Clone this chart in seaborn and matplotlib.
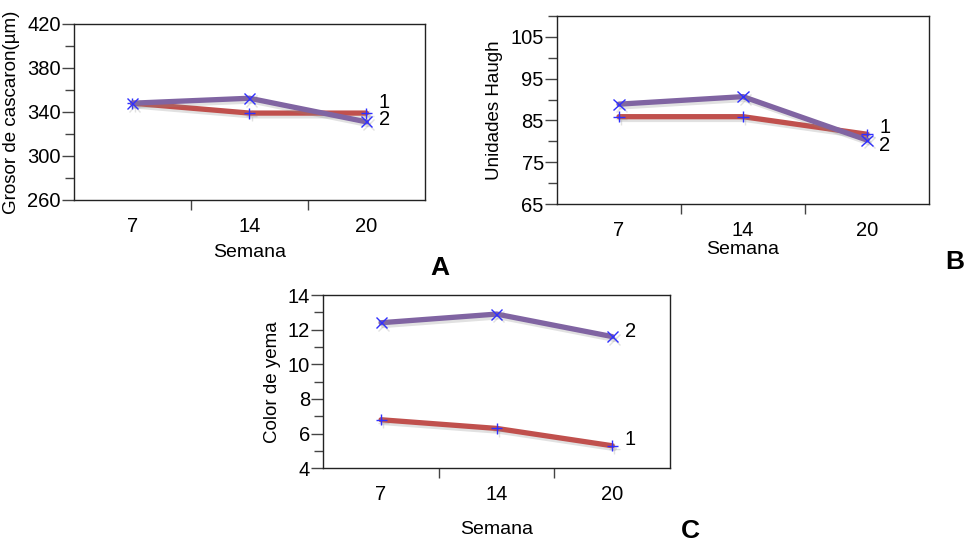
import matplotlib
matplotlib.use('Agg')
import matplotlib.pyplot as plt
import matplotlib.patheffects as pe
import pandas as pd
import seaborn as sns

# data
semana = ['7', '14', '20']
series = ['1', '2']
grosor_1 = [348, 339, 339]
grosor_2 = [348, 352.5, 331]
haugh_1 = [85.9, 85.9, 81.7]
haugh_2 = [88.9, 90.7, 80.3]
yema_1 = [6.8, 6.3, 5.3]
yema_2 = [12.4, 12.9, 11.6]

sns.set_style('white')
plt.rcParams['font.family'] = ['Liberation Sans', 'DejaVu Sans']
plt.rcParams['text.color'] = 'black'
plt.rcParams['axes.labelcolor'] = 'black'
plt.rcParams['xtick.color'] = 'black'
plt.rcParams['ytick.color'] = 'black'

colors = {'1': '#C0504D', '2': '#8064A2'}
markers = {'1': '+', '2': 'x'}


def long_df(v1, v2):
    rows = []
    for s, vals in zip(series, [v1, v2]):
        for w, v in zip(semana, vals):
            rows.append({'Semana': w, 'valor': v, 'serie': s})
    return pd.DataFrame(rows)


fig = plt.figure(figsize=(9.67, 5.44), dpi=100)

panels = [
    # axes rect, data, ylabel, ylim, major, minor, xlabelpad, label offsets (px)
    ([0.0765, 0.6324, 0.3630, 0.3235], (grosor_1, grosor_2), 'Grosor de cascaron(µm)',
     (260, 420), 40, 20, 6, {'1': 11, '2': 2}),
    ([0.5760, 0.6250, 0.3847, 0.3456], (haugh_1, haugh_2), 'Unidades Haugh',
     (65, 110), 10, 5, 1, {'1': 7, '2': -5}),
    ([0.3343, 0.1392, 0.3586, 0.3185], (yema_1, yema_2), 'Color de yema',
     (4, 14), 2, 1, 12, {'1': 6, '2': 5}),
]

for rect, (v1, v2), ylab, ylim, major, minor, xpad, offs in panels:
    ax = fig.add_axes(rect)
    df = long_df(v1, v2)
    sns.lineplot(data=df, x='Semana', y='valor', hue='serie', style='serie',
                 hue_order=series, palette=colors, markers=markers, dashes=False,
                 linewidth=3.8, markersize=8, legend=False, ax=ax, sort=False)
    for ln in ax.lines:
        ln.set_markeredgecolor('#2f2fff')
        ln.set_markerfacecolor('#2f2fff')
        ln.set_markeredgewidth(1.0)
        ln.set_path_effects([pe.SimpleLineShadow(offset=(1.5, -2), shadow_color='#888888', alpha=0.25),
                             pe.Normal()])

    ax.set_xlim(-0.5, 2.5)
    ax.set_ylim(*ylim)
    ax.set_xticks(range(len(semana)))
    ax.set_xticklabels(semana)
    ax.set_xticks([0.5, 1.5], minor=True)
    ax.set_yticks(range(ylim[0], int(ylim[1]) + 1, major))
    ax.set_yticks(range(ylim[0], int(ylim[1]) + 1, minor), minor=True)
    ax.tick_params(axis='x', which='major', length=0, pad=12, labelsize=14.5)
    ax.tick_params(axis='x', which='minor', length=7, width=1, color='#444444',
                   direction='out', bottom=True)
    ax.tick_params(axis='y', which='major', length=8.5, width=1, color='#444444',
                   direction='out', left=True, pad=1, labelsize=14.5)
    ax.tick_params(axis='y', which='minor', length=6.5, width=1, color='#444444',
                   direction='out', left=True)
    ax.set_xlabel('Semana', fontsize=14, labelpad=xpad)
    ax.set_ylabel(ylab, fontsize=13.5, labelpad=5)
    for sp in ax.spines.values():
        sp.set_visible(True)
        sp.set_color('#222222')
        sp.set_linewidth(1)

    for s, vals in zip(series, [v1, v2]):
        ax.annotate(s, xy=(2, vals[-1]), xytext=(9, offs[s] * 0.72),
                    textcoords='offset points', ha='left', va='center', fontsize=14.5)

fig.text(440 / 967, 1 - 268 / 544, 'A', fontsize=19, fontweight='bold', ha='center', va='center')
fig.text(955 / 967, 1 - 262 / 544, 'B', fontsize=19, fontweight='bold', ha='center', va='center')
fig.text(690 / 967, 1 - 531 / 544, 'C', fontsize=19, fontweight='bold', ha='center', va='center')

plt.savefig('out.png', dpi=100)
